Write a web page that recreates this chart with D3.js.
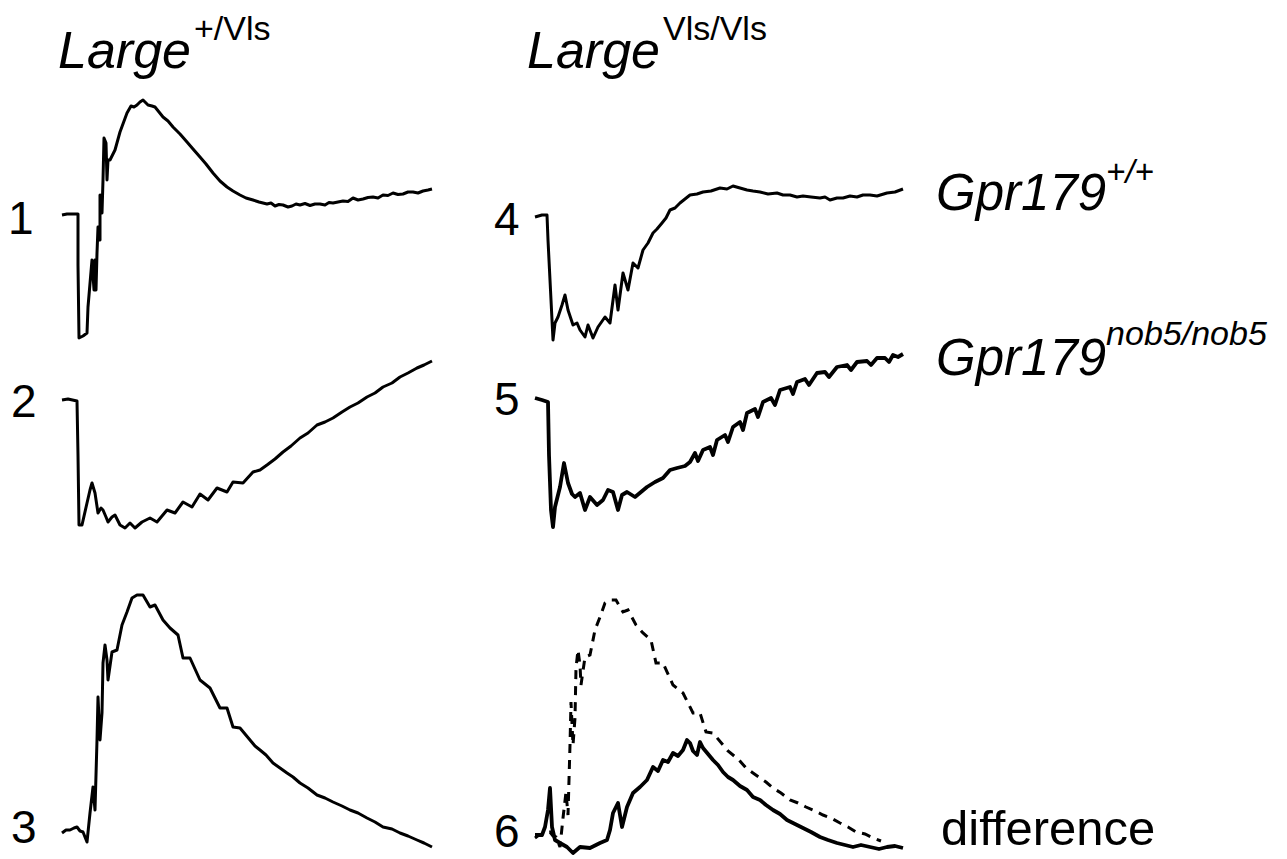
<!DOCTYPE html>
<html>
<head>
<meta charset="utf-8">
<script src="https://cdn.jsdelivr.net/npm/d3@7"></script>
<style>
    body { margin: 0; background: #fff; }
    text { font-family: Arial, "Liberation Sans", sans-serif; fill: #000; }
</style>
</head>
<body>
<div id="chart"></div>
<script>
// ERG traces, [time (ms from sweep start), amplitude (µV)]
var trace1 = [[0,0],[5,2],[15,2],[16,2],[16,-100],[17,-246],[21,-242],[25,-236],[26,-184],[30,-90],[32,-150],
    [33,-90],[34,-150],[35,-76],[36,-24],[38,-50],[38,40],[40,4],[41,70],[42,154],[44,144],[45,70],[46,110],
    [48,110],[53,130],[58,166],[65,204],[69,218],[72,216],[75,220],[78,226],[81,230],[84,224],[86,220],
    [90,218],[93,216],[97,206],[101,196],[106,188],[111,176],[118,162],[125,146],[131,132],[138,116],
    [144,102],[151,84],[158,68],[165,56],[171,48],[178,40],[184,34],[191,30],[197,26],[205,22],[209,24],
    [213,18],[217,21],[221,20],[226,16],[230,18],[234,22],[238,20],[243,23],[248,19],[253,22],[258,22],
    [263,20],[267,25],[271,24],[276,26],[281,28],[286,27],[291,34],[296,30],[301,32],[306,35],[311,36],
    [316,34],[321,40],[326,39],[331,44],[336,41],[341,42],[346,46],[351,46],[356,44],[361,48],[366,50],[370,52]];

var trace2 = [[0,0],[6,2],[15,-2],[16,-110],[17,-250],[20,-250],[25,-206],[28,-180],[30,-166],[33,-186],
    [36,-226],[39,-216],[41,-220],[44,-234],[46,-244],[50,-234],[53,-230],[58,-250],[63,-256],[68,-246],
    [73,-256],[80,-244],[88,-236],[95,-244],[105,-220],[113,-226],[121,-204],[130,-214],[138,-188],
    [146,-200],[155,-176],[165,-184],[171,-164],[181,-166],[191,-144],[198,-140],[205,-130],[213,-118],
    [221,-104],[229,-92],[238,-76],[246,-66],[255,-50],[263,-44],[271,-36],[280,-24],[288,-14],[296,-6],
    [305,6],[313,14],[321,26],[330,34],[338,46],[346,54],[355,64],[362,70],[370,78]];

var trace3 = [[0,-6],[4,0],[8,0],[12,4],[15,6],[18,-2],[21,-4],[25,-24],[28,34],[31,86],[33,40],[35,180],
    [36,266],[38,180],[40,234],[41,334],[43,370],[45,340],[46,300],[50,356],[55,360],[60,410],[65,436],
    [70,464],[75,470],[81,470],[88,446],[93,450],[101,420],[108,404],[116,390],[121,344],[128,344],
    [138,300],[148,284],[158,244],[165,244],[171,206],[178,204],[188,180],[193,168],[198,160],[204,150],
    [211,134],[218,124],[225,114],[231,106],[238,94],[246,84],[255,70],[263,64],[271,56],[280,48],
    [288,40],[296,34],[305,24],[313,16],[321,6],[330,2],[338,-6],[346,-12],[355,-20],[362,-26],[370,-34]];

var trace4 = [[0,-2],[7,2],[12,2],[13,-48],[15,-128],[17,-208],[18,-248],[20,-214],[23,-202],[27,-178],
    [30,-158],[33,-188],[38,-218],[42,-214],[45,-228],[50,-242],[53,-218],[58,-244],[63,-222],[70,-202],
    [75,-214],[80,-138],[83,-188],[88,-114],[93,-148],[98,-94],[103,-104],[108,-68],[113,-54],[118,-34],
    [122,-26],[127,-14],[131,-4],[135,12],[140,16],[145,26],[150,34],[155,42],[162,44],[168,48],[176,50],
    [185,56],[192,54],[198,60],[205,56],[212,52],[218,50],[225,48],[233,44],[242,46],[248,42],[255,42],
    [262,38],[268,40],[276,38],[285,36],[290,38],[295,32],[302,36],[308,36],[315,40],[322,38],[328,42],
    [335,42],[342,40],[352,46],[360,48],[368,54]];

var trace5 = [[0,4],[7,0],[13,-4],[14,-110],[16,-220],[18,-254],[20,-214],[25,-174],[29,-126],[33,-166],
    [37,-188],[40,-194],[45,-186],[50,-220],[55,-194],[62,-210],[68,-200],[73,-180],[78,-184],[83,-220],
    [87,-190],[92,-184],[100,-194],[112,-174],[120,-164],[128,-156],[135,-140],[142,-136],[150,-132],
    [155,-124],[160,-106],[163,-122],[168,-100],[175,-94],[178,-110],[182,-80],[190,-70],[193,-84],
    [198,-54],[205,-44],[208,-60],[212,-26],[220,-18],[223,-34],[228,-4],[236,4],[240,-10],[245,20],
    [255,26],[258,12],[262,36],[270,42],[274,30],[282,54],[290,56],[294,46],[302,66],[312,70],[316,60],
    [322,76],[332,78],[336,70],[342,84],[350,84],[354,76],[358,90],[363,86],[368,92]];

var trace6 = [[0,0],[7,0],[10,16],[13,50],[15,94],[17,16],[20,-10],[25,-16],[32,-24],[38,-36],[45,-24],
    [55,-26],[65,-16],[72,-10],[75,10],[78,44],[83,64],[87,16],[92,56],[98,84],[105,96],[112,110],
    [118,136],[123,128],[128,150],[133,146],[138,164],[143,158],[148,170],[152,190],[155,184],[158,168],
    [162,160],[165,186],[168,174],[173,162],[178,150],[183,140],[188,126],[193,116],[198,110],[205,98],
    [212,90],[218,76],[225,70],[231,60],[238,50],[245,42],[252,30],[260,22],[268,14],[276,6],[285,-4],
    [293,-10],[302,-16],[310,-20],[318,-24],[326,-20],[335,-24],[344,-28],[352,-24],[360,-22],[368,-26]];

var traceNumbers = ["1", "2", "3", "4", "5", "6"];
var columnGene = ["Large", "Large"];
var columnAllele = ["+/Vls", "Vls/Vls"];
var rowGene = ["Gpr179", "Gpr179"];
var rowAllele = ["+/+", "nob5/nob5"];
var differenceLabel = "difference";

// layout
var width = 1287, height = 859;
var colStart = [62, 535];
var panels = [
    {data: trace1, col: 0, base: 215, lx: 8, ly: 234},
    {data: trace2, col: 0, base: 400, lx: 11, ly: 417},
    {data: trace3, col: 0, base: 830, lx: 11, ly: 843},
    {data: trace4, col: 1, base: 216, lx: 494, ly: 235},
    {data: trace5, col: 1, base: 400, lx: 494, ly: 415},
    {data: trace6, col: 1, base: 835, lx: 494, ly: 847}
];

var svg = d3.select("#chart").append("svg")
    .attr("width", width)
    .attr("height", height);

// same time and amplitude scale for every trace (2 µV per pixel)
function xScale(col) {
    return d3.scaleLinear().domain([0, 370]).range([colStart[col], colStart[col] + 370]);
}
function yScale(base) {
    return d3.scaleLinear().domain([0, 100]).range([base, base - 50]);
}

panels.forEach(function (p, i) {
    var x = xScale(p.col), y = yScale(p.base);
    var line = d3.line()
        .x(function (d) { return x(d[0]); })
        .y(function (d) { return y(d[1]); });

    // left difference trace replotted dashed under trace 6
    if (i === 5) {
        svg.append("path")
            .datum(trace3.filter(function (d) { return d[0] <= 350; }))
            .attr("d", line)
            .attr("fill", "none")
            .attr("stroke", "#000")
            .attr("stroke-width", 3)
            .attr("stroke-dasharray", "9,7");
    }

    svg.append("path")
        .datum(p.data)
        .attr("d", line)
        .attr("fill", "none")
        .attr("stroke", "#000")
        .attr("stroke-width", (i === 4 || i === 5) ? 3.8 : 3)
        .attr("stroke-linejoin", "round");

    svg.append("text")
        .attr("x", p.lx)
        .attr("y", p.ly)
        .attr("font-size", 46)
        .text(traceNumbers[i]);
});

// column headers
colStart.forEach(function (cx, c) {
    var t = svg.append("text")
        .attr("x", c === 0 ? 58 : 527)
        .attr("y", 68);
    t.append("tspan")
        .attr("font-size", 52)
        .attr("font-style", "italic")
        .text(columnGene[c]);
    t.append("tspan")
        .attr("font-size", 34)
        .attr("dx", 3)
        .attr("dy", -28)
        .text(columnAllele[c]);
});

// row labels on the right
var rowY = [210, 375];
rowY.forEach(function (ry, r) {
    var t = svg.append("text")
        .attr("x", 936)
        .attr("y", ry)
        .attr("font-style", "italic");
    t.append("tspan")
        .attr("font-size", 51)
        .text(rowGene[r]);
    t.append("tspan")
        .attr("font-size", r === 0 ? 33 : 34)
        .attr("dy", r === 0 ? -27 : -30)
        .text(rowAllele[r]);
});

svg.append("text")
    .attr("x", 941)
    .attr("y", 845)
    .attr("font-size", 49)
    .text(differenceLabel);
</script>
</body>
</html>
